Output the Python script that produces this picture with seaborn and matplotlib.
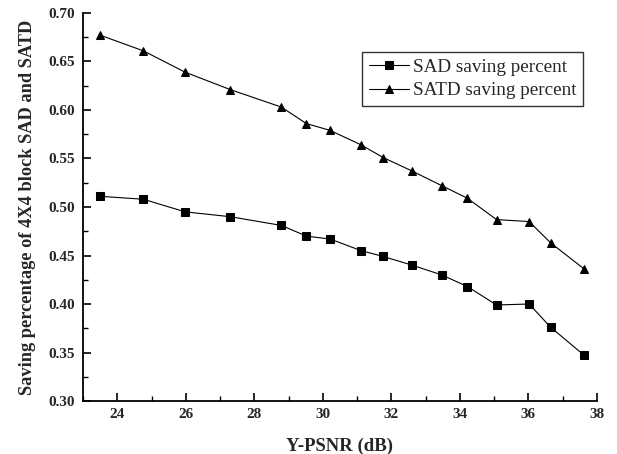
import pandas as pd
import matplotlib
matplotlib.use("Agg")
import matplotlib.pyplot as plt
import seaborn as sns
from matplotlib.ticker import MultipleLocator

# Values
psnr = [23.51, 24.76, 25.98, 27.30, 28.79, 29.52, 30.21, 31.12,
        31.76, 32.61, 33.47, 34.22, 35.07, 36.02, 36.65, 37.63]
sad_saving = [0.511, 0.508, 0.495, 0.490, 0.481, 0.470, 0.467, 0.455,
              0.449, 0.440, 0.430, 0.418, 0.399, 0.400, 0.376, 0.347]
satd_saving = [0.677, 0.661, 0.639, 0.621, 0.603, 0.586, 0.579, 0.564,
               0.551, 0.537, 0.522, 0.509, 0.487, 0.485, 0.463, 0.436]
series_names = ["SAD saving percent", "SATD saving percent"]


def main():
    df = pd.concat([
        pd.DataFrame({"psnr": psnr, "saving": sad_saving, "series": series_names[0]}),
        pd.DataFrame({"psnr": psnr, "saving": satd_saving, "series": series_names[1]}),
    ], ignore_index=True)

    sns.set_style("ticks")
    plt.rcParams["font.family"] = ["Liberation Serif", "DejaVu Serif"]
    plt.rcParams["xtick.direction"] = "in"
    plt.rcParams["ytick.direction"] = "in"

    fig = plt.figure(figsize=(6.17, 4.54), dpi=100)
    ax = fig.add_axes([0.1345, 0.1167, 0.833, 0.8547])

    sns.lineplot(data=df, x="psnr", y="saving", hue="series", style="series",
                 markers=["s", "^"], dashes=False, palette=["black", "black"],
                 linewidth=0.8, markersize=5.5, markeredgecolor="black", ax=ax)

    ax.set_xlim(23, 38)
    ax.set_ylim(0.30, 0.70)
    ax.xaxis.set_major_locator(MultipleLocator(2))
    ax.xaxis.set_minor_locator(MultipleLocator(1))
    ax.yaxis.set_major_locator(MultipleLocator(0.05))
    ax.yaxis.set_minor_locator(MultipleLocator(0.025))
    ax.yaxis.set_major_formatter(plt.FormatStrFormatter("%.2f"))
    ax.tick_params(which="major", length=6, width=1.2, labelsize=11, color="black")
    ax.tick_params(axis="x", which="major", pad=5)
    ax.tick_params(axis="y", which="major", pad=6)
    ax.tick_params(which="minor", length=3.6, width=1.0, color="black")
    for lbl in ax.get_xticklabels() + ax.get_yticklabels():
        lbl.set_fontweight("bold")

    for side in ["top", "right"]:
        ax.spines[side].set_visible(False)
    for side in ["left", "bottom"]:
        ax.spines[side].set_linewidth(1.3)
        ax.spines[side].set_color("black")

    ax.set_xlabel("Y-PSNR (dB)", fontsize=13.5, fontweight="bold", labelpad=12)
    ax.set_ylabel("Saving percentage of 4X4 block SAD and SATD", fontsize=13.2,
                  fontweight="bold", labelpad=9)

    handles, labels = ax.get_legend_handles_labels()
    leg = ax.legend(handles, labels, loc="upper left", bbox_to_anchor=(0.5435, 0.90),
                    fontsize=13.8, frameon=True, fancybox=False, handlelength=2.1,
                    handletextpad=0.2, borderpad=0.35, labelspacing=0.32,
                    borderaxespad=0)
    leg.get_frame().set_edgecolor("black")
    leg.get_frame().set_linewidth(1.0)

    fig.savefig("out.png", dpi=100)


if __name__ == "__main__":
    main()
